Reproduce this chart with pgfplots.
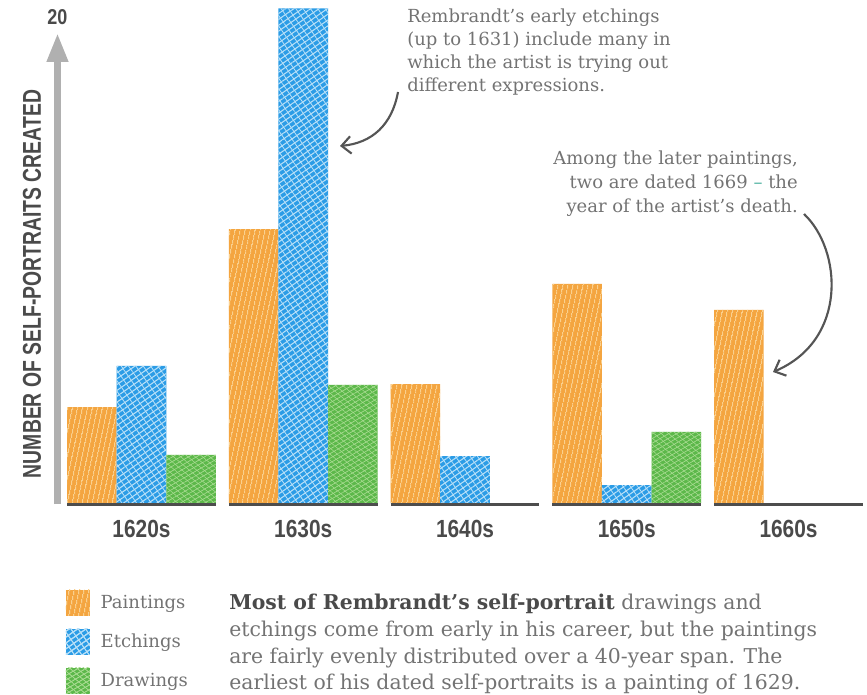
\documentclass[border=0pt]{standalone}
\usepackage{pgfplots}
\pgfplotsset{compat=1.18}
\usepackage{fontspec}
\setmainfont{DejaVu Serif}
\newfontfamily\headfont{Liberation Sans}
\usetikzlibrary{patterns.meta, arrows.meta}
\definecolor{orangeC}{HTML}{F4A540}
\definecolor{orangeL}{HTML}{FAD08E}
\definecolor{blueC}{HTML}{2B9CE6}
\definecolor{blueL}{HTML}{B8E0F8}
\definecolor{greenC}{HTML}{5CB84A}
\definecolor{greenL}{HTML}{A9DC92}
\definecolor{darkT}{HTML}{4A4A4A}
\definecolor{textG}{HTML}{737373}
\definecolor{axisG}{HTML}{B0B0B0}
\definecolor{baseG}{HTML}{4D4D4D}
\definecolor{tealC}{HTML}{4BB09E}
\definecolor{arrowG}{HTML}{555555}
\tikzset{
 paintfill/.style={fill=orangeC, draw=none, postaction={pattern={Lines[angle=78,distance=4pt,line width=0.9pt]}, pattern color=orangeL}},
 etchfill/.style={fill=blueC, draw=none, postaction={pattern={Lines[angle=35,distance=3.6pt,line width=0.8pt]}, pattern color=blueL}, postaction={pattern={Lines[angle=-55,distance=4.5pt,line width=0.6pt]}, pattern color=blueL}},
 drawfill/.style={fill=greenC, draw=none, postaction={pattern={Lines[angle=30,distance=3pt,line width=0.5pt]}, pattern color=greenL}, postaction={pattern={Lines[angle=-40,distance=3.5pt,line width=0.4pt]}, pattern color=greenL}},
}
\newcommand{\tl}[1]{\resizebox{43.5pt}{13pt}{\headfont\bfseries #1}}
\begin{document}
\begin{tikzpicture}
\begin{axis}[
 at={(0,0)}, anchor=south west,
 scale only axis, width=607.125pt, height=352.5pt,
 xmin=-0.5193, xmax=4.4853, ymin=0, ymax=20.43,
 axis x line=bottom, axis y line=none,
 x axis line style={draw=none},
 xtick={0,1,2,3,4}, xticklabels={\tl{1620s},\tl{1630s},\tl{1640s},\tl{1650s},\tl{1660s}},
 major tick length=0pt,
 xticklabel style={anchor=center, yshift=-19.5pt, text=darkT, inner sep=0pt},
 ybar=0pt, bar width=0.3066,
 clip=false,
 legend style={at={(axis description cs:0.0105,-0.185)}, anchor=north west, draw=none, fill=none,
   inner sep=0pt, outer sep=0pt, row sep=9.75pt, column sep=6pt, font=\fontsize{13.5pt}{16pt}\selectfont, text=textG},
 legend cell align=left,
]
\addplot[paintfill, bar shift=-0.3066, legend image code/.code={\path[paintfill] (0pt,-9.75pt) rectangle (18pt,9.75pt);}]
  coordinates {(0,4.17) (1,11.9) (2,5.17) (3,9.52) (4,8.39)};
\addplot[etchfill, bar shift=0, legend image code/.code={\path[etchfill] (0pt,-9.75pt) rectangle (18pt,9.75pt);}]
  coordinates {(0,5.96) (1,21.5) (2,2.04) (3,0.78)};
\addplot[drawfill, bar shift=0.3066, legend image code/.code={\path[drawfill] (0pt,-9.75pt) rectangle (18pt,9.75pt);}]
  coordinates {(0,2.09) (1,5.13) (3,3.09)};
\legend{Paintings,Etchings,Drawings}
\pgfplotsinvokeforeach{0,1,2,3,4}{
  \draw[baseG, line width=2.25pt] (axis cs:#1-0.4599,-0.05) -- (axis cs:#1+0.4599,-0.05);
}
\draw[axisG, line width=5.25pt, -{Triangle[length=21.75pt,width=15pt]}] (axis cs:-0.5193,-0.05) -- (axis cs:-0.5193,20.43);
\end{axis}
\begin{scope}[shift={(-43.125pt,377.25pt)}, x=0.75pt, y=-0.75pt]
\node[inner sep=0pt, text=darkT] at (57.5,17.5) {\resizebox{15pt}{11.25pt}{\headfont\bfseries 20}};
\node[inner sep=0pt, text=darkT, rotate=90] at (32,284) {\resizebox{291pt}{13.5pt}{\headfont\bfseries NUMBER OF SELF-PORTRAITS CREATED}};
\node[anchor=north west, align=left, inner sep=0pt, font=\fontsize{13.5pt}{17.25pt}\selectfont, text=textG] at (407,9)
 {Rembrandt’s early etchings\\(up to 1631) include many in\\which the artist is trying out\\different expressions.};
\node[anchor=north east, align=right, inner sep=0pt, font=\fontsize{13.5pt}{18pt}\selectfont, text=textG] at (798,151)
 {Among the later paintings,\\two are dated 1669 {\color{tealC}–} the\\year of the artist’s death.};
\node[anchor=north west, align=left, inner sep=0pt, font=\fontsize{15.3pt}{20pt}\selectfont, text=textG] at (229,594)
 {{\color{darkT}\bfseries Most of Rembrandt’s self-portrait} drawings and\\etchings come from early in his career, but the paintings\\are fairly evenly distributed over a 40-year span. The\\earliest of his dated self-portraits is a painting of 1629.};
\draw[arrowG, line width=1.6pt, -{Straight Barb[length=7pt,width=13pt]}] (398,92) .. controls (392,125) and (372,143) .. (340,146);
\draw[arrowG, line width=1.6pt, -{Straight Barb[length=7pt,width=13pt]}] (804,214) .. controls (842,250) and (848,340) .. (773,372);
\pgfresetboundingbox
\path[use as bounding box] (0,0) rectangle (867,695);
\end{scope}
\end{tikzpicture}
\end{document}
